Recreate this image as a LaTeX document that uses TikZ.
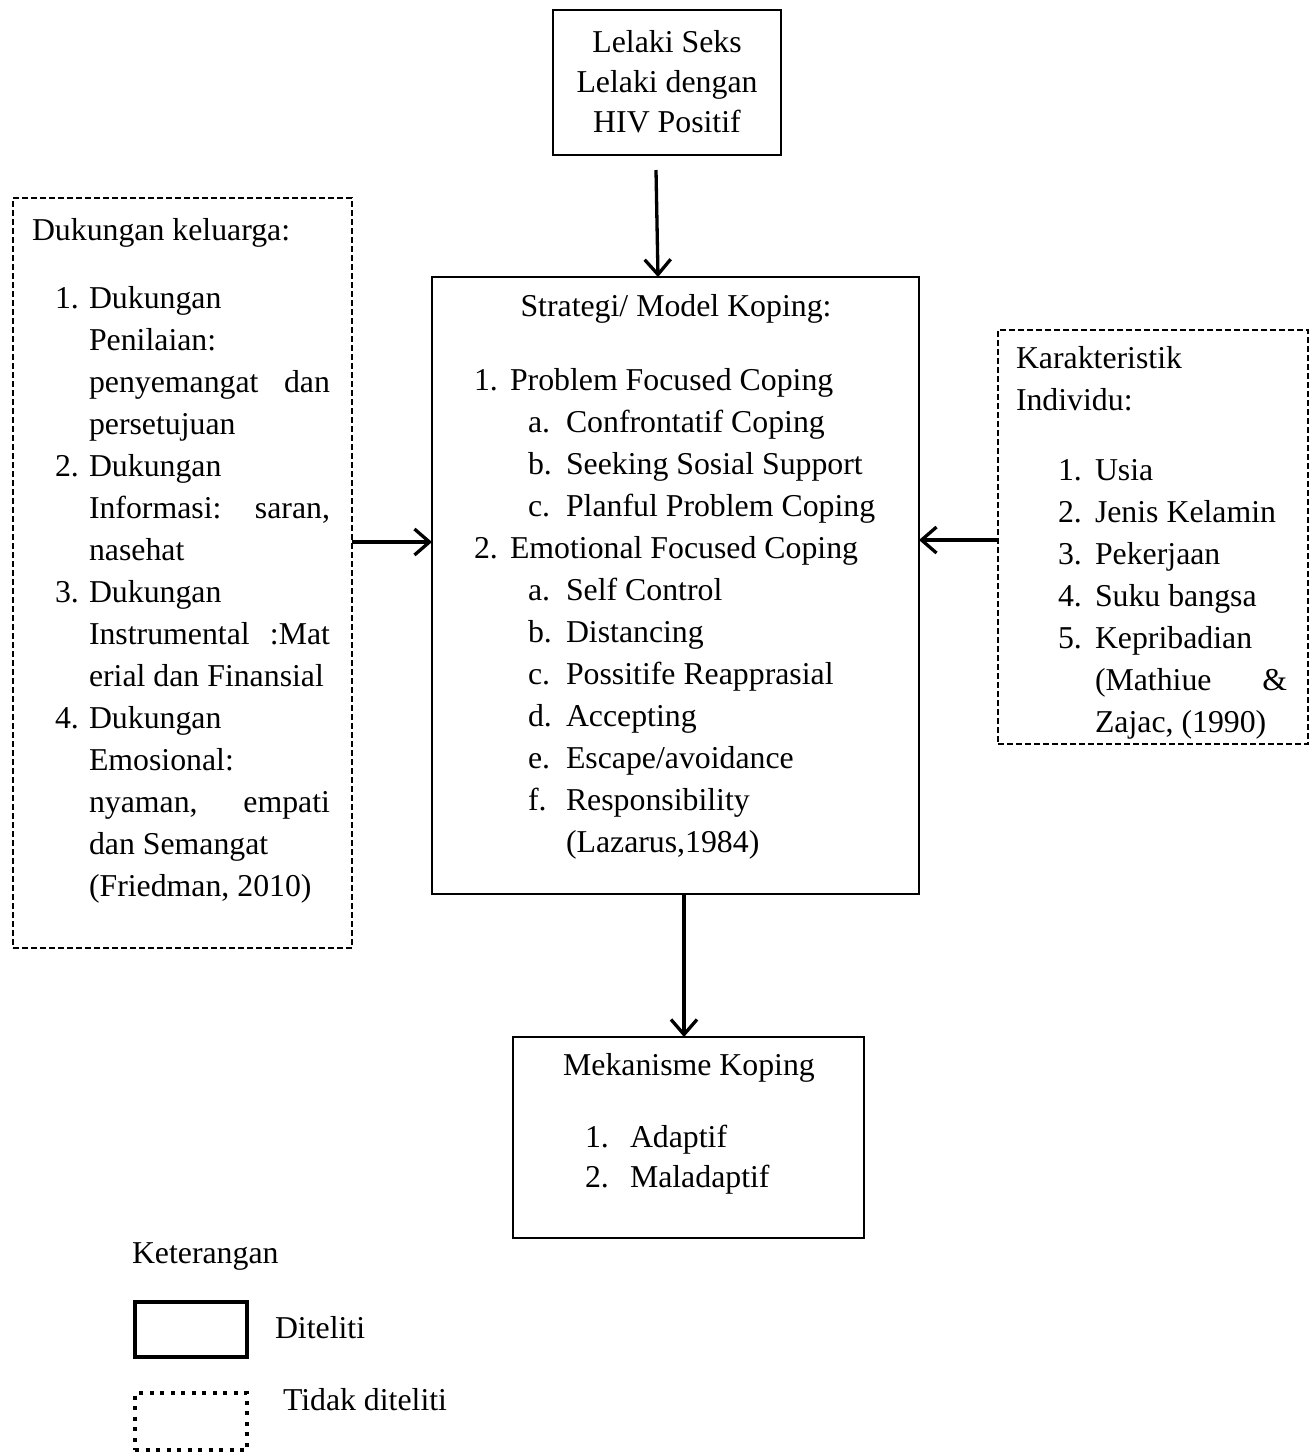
\documentclass[tikz,border=0pt]{standalone}
\usepackage{fontspec}
\setmainfont{Liberation Serif}
\usetikzlibrary{arrows.meta}
\tikzset{
  txt/.style={font=\fontsize{31.8}{38}\selectfont, inner sep=0pt, outer sep=0pt},
  solidbox/.style={draw, line width=2pt, inner sep=0pt, outer sep=0pt, anchor=north west},
  dashbox/.style={draw, line width=2pt, dash pattern=on 6pt off 3pt, inner sep=0pt, outer sep=0pt, anchor=north west},
  arr/.style={line width=3.3pt, -{Straight Barb[length=15pt, width=26pt, line width=3.3pt]}},
}
\newcommand\tl[4]{\node[txt,anchor=base west] (#1) at (#2,-#3) {#4};}
\newcommand\tc[4]{\node[txt,anchor=base] (#1) at (#2,-#3) {#4};}
\begin{document}
\begin{tikzpicture}[x=1pt,y=1pt]
\useasboundingbox (0,0) rectangle (1314,-1452);
% boxes
\node[solidbox, minimum width=228pt, minimum height=145pt] (top) at (553,-10) {};
\node[solidbox, minimum width=487pt, minimum height=617pt] (main) at (432,-277) {};
\node[dashbox, minimum width=339pt, minimum height=750pt] (left) at (13,-198) {};
\node[dashbox, minimum width=310pt, minimum height=414pt] (right) at (998,-330) {};
\node[solidbox, minimum width=351pt, minimum height=201pt] (bottom) at (513,-1037) {};
\node[solidbox, line width=4pt, minimum width=112pt, minimum height=55pt] (legs) at (135,-1302) {};
\node[solidbox, line width=4pt, dash pattern=on 4pt off 6.5pt, minimum width=112pt, minimum height=57pt] (legd) at (135,-1393) {};

% top box text
\tc{t1}{667}{52}{Lelaki Seks}
\tc{t2}{667}{92}{Lelaki dengan}
\tc{t3}{667}{132}{HIV Positif}

% main box text
\tc{m0}{676}{316}{Strategi/ Model Koping:}
\tl{m1n}{474}{390}{1.}\tl{m1}{510}{390}{Problem Focused Coping}
\tl{m2n}{528}{432}{a.}\tl{m2}{566}{432}{Confrontatif Coping}
\tl{m3n}{528}{474}{b.}\tl{m3}{566}{474}{Seeking Sosial Support}
\tl{m4n}{528}{516}{c.}\tl{m4}{566}{516}{Planful Problem Coping}
\tl{m5n}{474}{558}{2.}\tl{m5}{510}{558}{Emotional Focused Coping}
\tl{m6n}{528}{600}{a.}\tl{m6}{566}{600}{Self Control}
\tl{m7n}{528}{642}{b.}\tl{m7}{566}{642}{Distancing}
\tl{m8n}{528}{684}{c.}\tl{m8}{566}{684}{Possitife Reapprasial}
\tl{m9n}{528}{726}{d.}\tl{m9}{566}{726}{Accepting}
\tl{m10n}{528}{768}{e.}\tl{m10}{566}{768}{Escape/avoidance}
\tl{m11n}{528}{810}{f.}\tl{m11}{566}{810}{Responsibility}
\tl{m12}{566}{852}{(Lazarus,1984)}

% left box text
\tl{l0}{32}{240}{Dukungan keluarga:}
\tl{l1n}{55}{308}{1.}\tl{l1}{89}{308}{Dukungan}
\tl{l2}{89}{350}{Penilaian:}
\tl{l3}{89}{392}{\makebox[241pt][s]{penyemangat dan}}
\tl{l4}{89}{434}{persetujuan}
\tl{l5n}{55}{476}{2.}\tl{l5}{89}{476}{Dukungan}
\tl{l6}{89}{518}{\makebox[241pt][s]{Informasi: saran,}}
\tl{l7}{89}{560}{nasehat}
\tl{l8n}{55}{602}{3.}\tl{l8}{89}{602}{Dukungan}
\tl{l9}{89}{644}{\makebox[241pt][s]{Instrumental :Mat}}
\tl{l10}{89}{686}{erial dan Finansial}
\tl{l11n}{55}{728}{4.}\tl{l11}{89}{728}{Dukungan}
\tl{l12}{89}{770}{Emosional:}
\tl{l13}{89}{812}{\makebox[241pt][s]{nyaman, empati}}
\tl{l14}{89}{854}{dan Semangat}
\tl{l15}{89}{896}{(Friedman, 2010)}

% right box text
\tl{r0}{1016}{368}{Karakteristik}
\tl{r0b}{1016}{410}{Individu:}
\tl{r1n}{1058}{480}{1.}\tl{r1}{1095}{480}{Usia}
\tl{r2n}{1058}{522}{2.}\tl{r2}{1095}{522}{Jenis Kelamin}
\tl{r3n}{1058}{564}{3.}\tl{r3}{1095}{564}{Pekerjaan}
\tl{r4n}{1058}{606}{4.}\tl{r4}{1095}{606}{Suku bangsa}
\tl{r5n}{1058}{648}{5.}\tl{r5}{1095}{648}{Kepribadian}
\tl{r6}{1095}{690}{\makebox[192pt][s]{(Mathiue \&}}
\tl{r7}{1095}{732}{Zajac, (1990)}

% bottom box text
\tc{b0}{689}{1075}{Mekanisme Koping}
\tl{b1n}{585}{1147}{1.}\tl{b1}{630}{1147}{Adaptif}
\tl{b2n}{585}{1187}{2.}\tl{b2}{630}{1187}{Maladaptif}

% legend
\tl{k0}{132}{1263}{Keterangan}
\tl{k1}{275}{1338}{Diteliti}
\tl{k2}{283}{1410}{Tidak diteliti}

% connectors
\draw[arr] ([xshift=-11pt,yshift=-15pt]top.south) -- ([xshift=-17.5pt]main.north);
\draw[arr] ([yshift=31pt]left.east) coordinate (la) -- (la -| main.west);
\draw[arr] ([yshift=-3pt]right.west) coordinate (ra) -- (ra -| main.east);
\draw[arr] ([xshift=8.5pt]main.south) coordinate (da) -- (da |- bottom.north);
\end{tikzpicture}
\end{document}
